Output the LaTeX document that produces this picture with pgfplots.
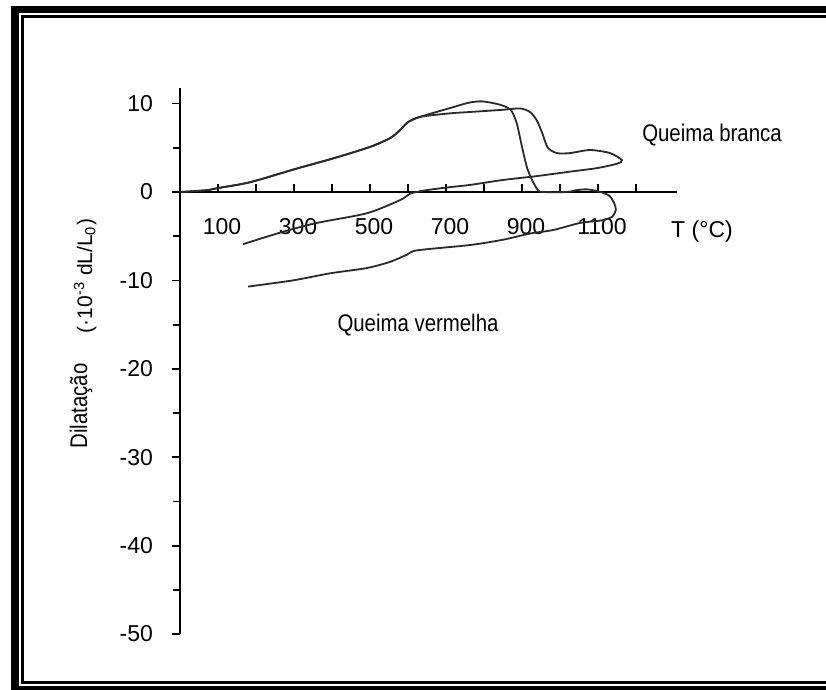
\documentclass[border=0pt]{standalone}
\usepackage{fontspec}
\setmainfont{Liberation Sans}
\newfontfamily\narrowfont[FakeStretch=0.85]{Liberation Sans}
\usepackage{pgfplots}
\pgfplotsset{compat=1.18}
\definecolor{ink}{HTML}{2A2A2A}

\begin{document}
\begin{tikzpicture}
\path[use as bounding box] (0,0) rectangle (413pt,-345pt);
\clip (0,0) rectangle (413pt,-345pt);
% double frame (thick outer band, thin inner line)
\begin{scope}[x=0.5pt,y=-0.5pt]
  \fill[white] (0,0) rectangle (826,690);
  \fill[black] (11,6) rectangle (840,700);
  \fill[white] (19,13) rectangle (840,686);
  \draw[line width=1.5pt] (840,16.5) -- (22.5,16.5) -- (22.5,682.5) -- (840,682.5);
\end{scope}

\begin{axis}[
  at={(90pt,-96pt)}, anchor=origin,
  x=0.19pt, y=4.42pt,
  xmin=0, xmax=1308, ymin=-50, ymax=11.8,
  axis x line=middle, axis y line=left,
  axis line style={-, line width=1pt, black},
  hide obscured x ticks=false, hide obscured y ticks=false,
  ytick align=outside, xtick align=inside,
  major tick length=4pt, minor tick length=3.5pt,
  tick style={black, line width=0.9pt},
  xtick={100,200,...,1200},
  xticklabels={100,,300,,500,,700,,900,,1100,},
  ytick={-50,-40,...,10},
  yticklabels={-50,-40,-30,-20,-10,0,10},
  minor y tick num=1,
  xticklabel style={font=\fontsize{11.5}{13}\selectfont, yshift=-9.5pt, xshift=2pt},
  yticklabel style={font=\fontsize{11.5}{13}\selectfont, xshift=-6pt},
  clip=false,
]
% Queima vermelha: heating, drop, cooling
\addplot[ink, line width=0.9pt, smooth, tension=0.45] coordinates {
  (0,0) (70,0.2) (100,0.45) (184,1.1) (303,2.6) (403,3.8) (500,5.1)
  (553,6.1) (579,7.0) (600,7.9) (632,8.5) (711,9.5) (760,10.1) (795,10.25)
  (840,9.9) (870,9.3) (886,7.8) (900,5.1) (913,2.8) (926,1.4) (942,0.2)
  (955,0) (1018,0) (1042,0.2) (1071,0.3) (1103,0.05) (1129,-0.4)
  (1142,-1.2) (1147,-2.0) (1137,-2.8) (1111,-3.2) (1053,-3.5) (982,-4.3)
  (921,-4.7) (850,-5.4) (763,-6.0) (624,-6.6) (597,-7.1) (553,-7.9)
  (492,-8.6) (395,-9.2) (297,-10.0) (179,-10.7)
};
% Queima branca: heating, plateau, drop, cooling
\addplot[ink, line width=0.9pt, smooth, tension=0.45] coordinates {
  (0,0) (70,0.2) (100,0.45) (184,1.1) (303,2.6) (403,3.8) (500,5.1)
  (553,6.1) (579,7.0) (600,7.9) (632,8.5) (711,8.9) (763,9.05) (850,9.3)
  (895,9.45) (921,9.05) (939,8.1) (953,6.7) (968,5.0) (992,4.4) (1026,4.4)
  (1079,4.75) (1132,4.4) (1163,3.6) (1150,3.2) (1097,2.7) (1026,2.3)
  (939,1.8) (850,1.36) (763,0.8) (700,0.5) (640,0.15) (605,-0.2)
  (580,-0.9) (492,-2.4) (360,-3.5) (271,-4.5) (166,-5.9)
};
\end{axis}

\begin{scope}[x=0.5pt,y=-0.5pt]
  \node[font={\narrowfont\fontsize{12}{14}\selectfont}] at (712,135) {Queima branca};
  \node[font={\narrowfont\fontsize{12}{14}\selectfont}] at (418,325) {Queima vermelha};
  \node[font=\fontsize{11.5}{13}\selectfont] at (702,232) {T (°C)};
  \node[rotate=90, anchor=base, font={\narrowfont\fontsize{12}{14}\selectfont}] at (87,406) {Dilatação};
  \node[rotate=90, anchor=base, font=\fontsize{10.5}{12}\selectfont] at (92,276) {(·10\textsuperscript{-3} dL/L\textsubscript{0})};
\end{scope}
\end{tikzpicture}
\end{document}
